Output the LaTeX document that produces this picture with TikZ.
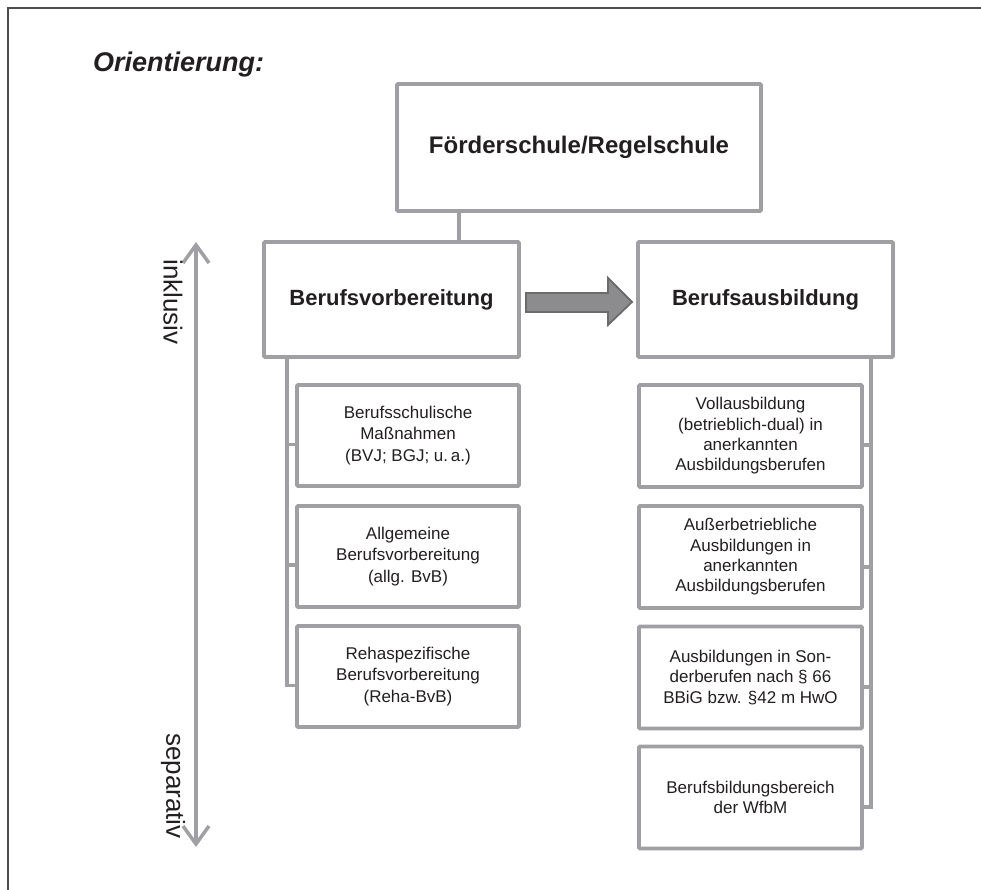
\documentclass[tikz,border=0pt]{standalone}
\usepackage{fontspec}
\setmainfont{Liberation Sans}
\usetikzlibrary{arrows.meta}
\definecolor{boxgray}{HTML}{A0A0A4}
\definecolor{txt}{HTML}{231F20}
\definecolor{framegray}{HTML}{4D4D4D}
\definecolor{arrfill}{HTML}{8C8C8E}
\definecolor{arrdraw}{HTML}{6B6B6B}
\begin{document}
\begin{tikzpicture}[x=1pt,y=-1pt,
  box/.style={draw=boxgray, line width=3.8pt, rounded corners=1pt, fill=white, inner sep=0pt, outer sep=0pt, align=center, text=txt},
  bigbox/.style={box, minimum width=364pt, minimum height=127pt, font=\bfseries\fontsize{24}{28}\selectfont},
  midbox/.style={box, minimum width=255pt, minimum height=115pt, font=\bfseries\fontsize{22}{26}\selectfont},
  leftbox/.style={box, minimum width=222pt, minimum height=101pt, font=\fontsize{17}{21.5}\selectfont},
  rightbox/.style={box, minimum width=223pt, minimum height=102pt, font=\fontsize{17}{20.3}\selectfont},
  link/.style={draw=boxgray, line width=3.2pt},
  sidelabel/.style={text=txt, font=\fontsize{26}{30}\selectfont, rotate=-90, inner sep=0pt},
  scalearrow/.style={draw=boxgray, line width=3.5pt, {Straight Barb[length=18pt,width=26pt]}-{Straight Barb[length=18pt,width=26pt]}},
  blockarrow/.style={fill=arrfill, draw=arrdraw, line width=1.8pt, line join=miter}
]
\useasboundingbox (0,0) rectangle (981,890);
% frame
\draw[framegray, line width=1.8pt] (8,890) -- (8,8) -- (981,8);
% title
\node[anchor=base west, inner sep=0pt, text=txt, font=\bfseries\itshape\fontsize{27}{30}\selectfont] (title) at (93,72) {Orientierung:};
% boxes
\node[bigbox] (top) at (579,147.5) {Förderschule/Regelschule};
\node[midbox] (bv) at (391.5,299.5) {Berufsvorbereitung};
\node[midbox] (ba) at (765.5,299.5) {Berufsausbildung};
\node[leftbox] (L1) at (408,435.5) {Berufsschulische\\Maßnahmen\\(BVJ; BGJ; u.\,a.)};
\node[leftbox] (L2) at (408,556.5) {Allgemeine\\Berufsvorbereitung\\(allg. BvB)};
\node[leftbox] (L3) at (408,676.5) {Rehaspezifische\\Berufsvorbereitung\\(Reha-BvB)};
\node[rightbox] (R1) at (750.5,436) {Vollausbildung\\(betrieblich-dual) in\\anerkannten\\Ausbildungsberufen};
\node[rightbox] (R2) at (750.5,557) {Außerbetriebliche\\Ausbildungen in\\anerkannten\\Ausbildungsberufen};
\node[rightbox] (R3) at (750.5,677.5) {Ausbildungen in Son-\\derberufen nach § 66\\BBiG bzw. §42 m HwO};
\node[rightbox] (R4) at (750.5,797.5) {Berufsbildungsbereich\\der WfbM};
% connector lines
\coordinate (jt) at (459,0);
\coordinate (jl) at (287,0);
\coordinate (jr) at (871,0);
\draw[link] (top.south -| jt) -- (bv.north -| jt);
\draw[link] (bv.south -| jl) |- ([yshift=-9pt]L3.west);
\draw[link] ([yshift=-9pt]L1.west -| jl) -- ([yshift=-9pt]L1.west);
\draw[link] ([yshift=-8.5pt]L2.west -| jl) -- ([yshift=-8.5pt]L2.west);
\draw[link] (ba.south -| jr) |- ([yshift=-9.5pt]R4.east);
\draw[link] ([yshift=-9pt]R1.east -| jr) -- ([yshift=-9pt]R1.east);
\draw[link] ([yshift=-10pt]R2.east -| jr) -- ([yshift=-10pt]R2.east);
\draw[link] ([yshift=-9.5pt]R3.east -| jr) -- ([yshift=-9.5pt]R3.east);
% block arrow between the two main boxes
\coordinate (a0) at ([xshift=7pt]bv.east);
\draw[blockarrow] (a0) ++(0,-6.5) -- ++(82,0) -- ++(0,-15) -- ++(24,24) -- ++(-24,23) -- ++(0,-13) -- ++(-82,0) -- cycle;
% vertical scale arrow
\coordinate (vt) at (196,242);
\coordinate (vb) at (196,847);
\draw[scalearrow] (vt) -- (vb);
\node[sidelabel] (inkl) at (173,302) {inklusiv};
\node[sidelabel] (sep) at (173,786) {separativ};
\end{tikzpicture}
\end{document}
